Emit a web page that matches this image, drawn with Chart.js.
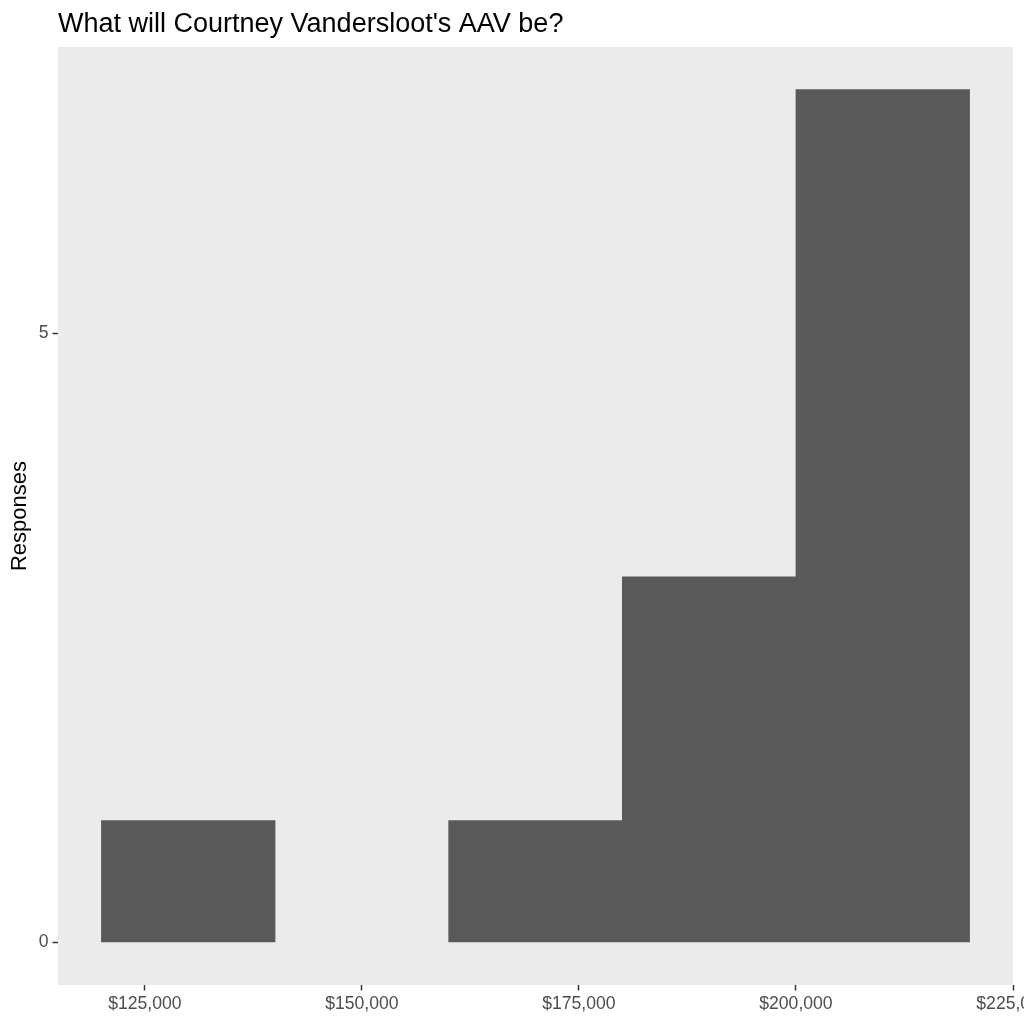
<!DOCTYPE html>
<html>
<head>
<meta charset="utf-8">
<script src="https://cdn.jsdelivr.net/npm/chart.js@4/dist/chart.umd.min.js"></script>
<style>
html,body{margin:0;padding:0;background:#fff;}
#wrap{width:1024px;height:1024px;}
</style>
</head>
<body>
<div id="wrap"><canvas id="c" width="1024" height="1024"></canvas></div>
<script>
// Histogram bins (start of each $20,000 bin) and response counts
const binStarts = [120000, 140000, 160000, 180000, 200000];
const binWidth = 20000;
const counts = [1, 0, 1, 3, 7];
const xTickValues = [125000, 150000, 175000, 200000, 225000];
const yTickValues = [0, 5];
const chartTitle = "What will Courtney Vandersloot's AAV be?";
const yTitle = "Responses";

const FONT = "'Liberation Sans', Arial, sans-serif";

const data = binStarts.map((s, i) => ({ x: s + binWidth / 2, y: counts[i] }));

const panelBg = {
  id: 'panelBg',
  beforeDraw(chart) {
    const { ctx, chartArea: a } = chart;
    ctx.save();
    ctx.fillStyle = '#EBEBEB';
    ctx.fillRect(a.left, a.top, a.right - a.left, a.bottom - a.top);
    ctx.restore();
  },
  afterDraw(chart) {
    const { ctx, chartArea: a } = chart;
    ctx.save();
    ctx.fillStyle = '#000';
    ctx.font = '27px ' + FONT;
    ctx.textAlign = 'left';
    ctx.textBaseline = 'alphabetic';
    ctx.fillText(chartTitle, a.left, 32);
    ctx.restore();
  }
};

new Chart(document.getElementById('c'), {
  type: 'bar',
  data: {
    datasets: [{
      data: data,
      backgroundColor: ctx => (ctx.raw && ctx.raw.y === 0) ? 'rgba(0,0,0,0)' : '#595959',
      borderWidth: 0,
      barPercentage: 1,
      categoryPercentage: 1
    }]
  },
  options: {
    responsive: false,
    devicePixelRatio: 1,
    animation: false,
    layout: { padding: { top: 47, right: 11, left: 0, bottom: 0 } },
    plugins: { legend: { display: false }, title: { display: false }, tooltip: { enabled: false } },
    scales: {
      x: {
        type: 'linear',
        min: 115000,
        max: 225000,
        offset: false,
        afterBuildTicks(s) { s.ticks = xTickValues.map(v => ({ value: v })); },
        afterFit(s) { s.height = 39; s.paddingLeft = 0; s.paddingRight = 0; },
        grid: { offset: false, drawOnChartArea: false, drawTicks: true, tickLength: 5.5, tickColor: '#333333', tickWidth: 1.5 },
        border: { display: false },
        ticks: {
          font: { family: FONT, size: 17.6 },
          color: '#4D4D4D',
          padding: 3,
          maxRotation: 0,
          autoSkip: false,
          callback: v => '$' + Number(v).toLocaleString('en-US')
        }
      },
      y: {
        type: 'linear',
        min: -0.35,
        max: 7.35,
        afterBuildTicks(s) { s.ticks = yTickValues.map(v => ({ value: v })); },
        afterFit(s) { s.width = 58; s.paddingTop = 0; s.paddingBottom = 0; },
        grid: { drawOnChartArea: false, drawTicks: true, tickLength: 5.5, tickColor: '#333333', tickWidth: 1.5 },
        border: { display: false },
        title: {
          display: true,
          text: yTitle,
          color: '#000',
          font: { family: FONT, size: 22 },
          padding: { top: 7, bottom: 0 }
        },
        ticks: {
          font: { family: FONT, size: 17.6 },
          color: '#4D4D4D',
          padding: 4,
          autoSkip: false
        }
      }
    }
  },
  plugins: [panelBg]
});
</script>
</body>
</html>
